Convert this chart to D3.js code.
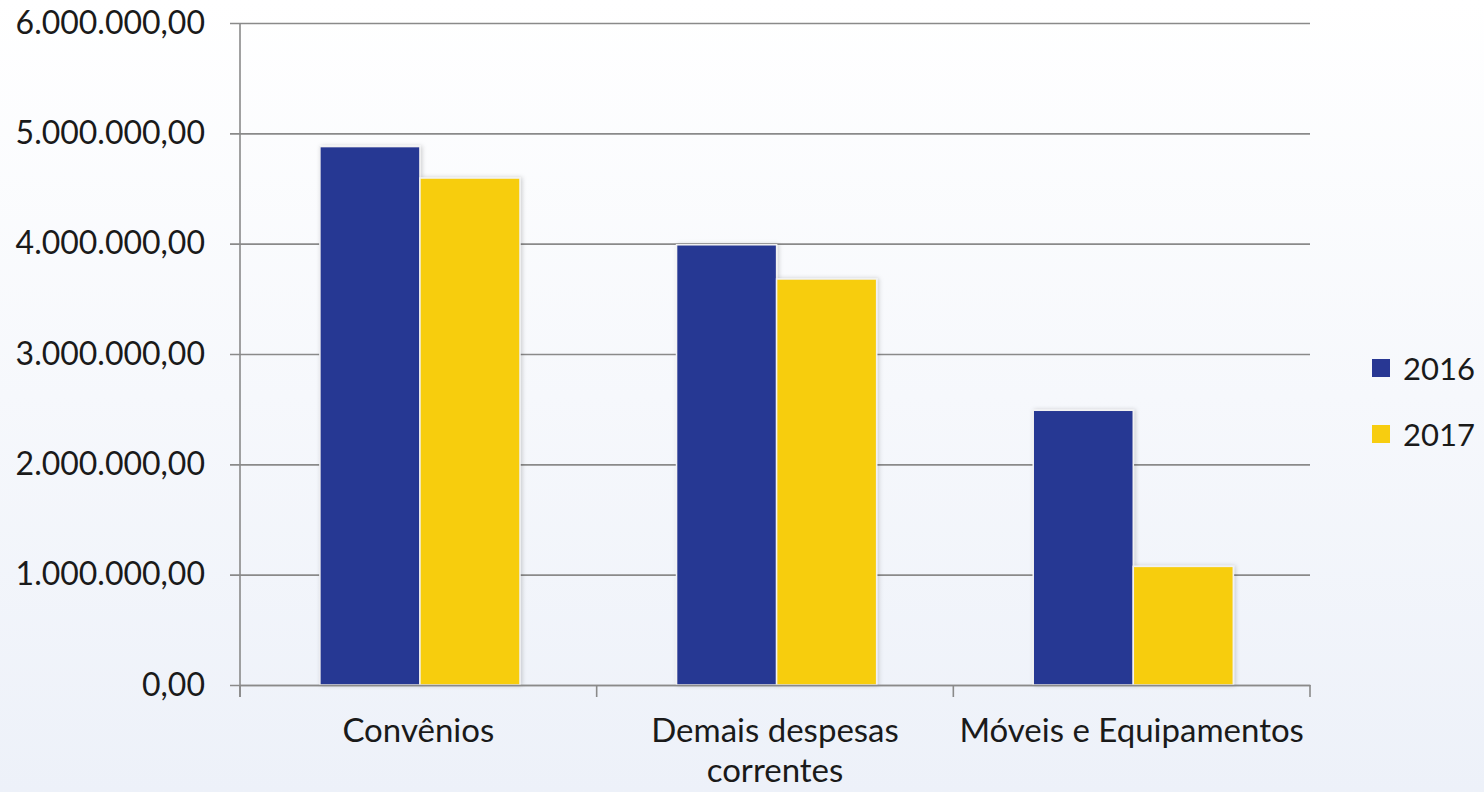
<!DOCTYPE html>
<html><head><meta charset="utf-8">
<script src="https://cdn.jsdelivr.net/npm/d3@7"></script>
<style>html,body{margin:0;padding:0;}svg{display:block;}</style>
</head><body>
<script>
const categories = [["Convênios"], ["Demais despesas", "correntes"], ["Móveis e Equipamentos"]];
const series = ["2016", "2017"];
const values2016 = [4880000, 3990000, 2490000];
const values2017 = [4595000, 3680000, 1075000];
const yTicks = [0, 1000000, 2000000, 3000000, 4000000, 5000000, 6000000];
const colors = ["#283793", "#f7cd10"];

const W = 1484, H = 792;
const svg = d3.select("body").append("svg").attr("width", W).attr("height", H);
const defs = svg.append("defs");
const grad = defs.append("linearGradient").attr("id","bg").attr("x1",0).attr("y1",0).attr("x2",0).attr("y2",1);
grad.append("stop").attr("offset","0%").attr("stop-color","#ffffff");
grad.append("stop").attr("offset","100%").attr("stop-color","#edf1f9");
const f = defs.append("filter").attr("id","sh").attr("x","-10%").attr("y","-10%").attr("width","130%").attr("height","130%");
f.append("feDropShadow").attr("dx",1.5).attr("dy",0).attr("stdDeviation",2).attr("flood-color","#000").attr("flood-opacity",0.18);
svg.append("rect").attr("width",W).attr("height",H).attr("fill","url(#bg)");

const mLeft = 240, mRight = 1310, mTop = 23, mBottom = 685;
const keys = categories.map(c => c.join(" "));
const x0 = d3.scaleBand().domain(keys).range([mLeft, mRight]).padding(0);
const bw = x0.bandwidth();
const x1 = d3.scaleBand().domain(series).range([bw*0.224, bw*0.785]).padding(0);
const y = d3.scaleLinear().domain([0, 6000000]).range([mBottom, mTop]);
const loc = d3.formatLocale({decimal: ",", thousands: ".", grouping: [3], currency: ["R$", ""]});
const fmt = loc.format(",.2f");

// gridlines + y ticks
const yAxis = d3.axisLeft(y).tickValues(yTicks).tickFormat(fmt).tickSize(-(mRight-mLeft)).tickPadding(35);
const gy = svg.append("g").attr("transform",`translate(${mLeft},0)`).call(yAxis);
gy.select(".domain").remove();
gy.selectAll(".tick line").attr("x1",-10).attr("stroke","#8a8a8a").attr("stroke-width",1.6);
gy.selectAll(".tick text").attr("font-family","Lato, sans-serif").attr("font-size",32).attr("fill","#1a1a1a");

// y axis line
svg.append("line").attr("x1",mLeft).attr("x2",mLeft).attr("y1",mTop).attr("y2",mBottom+12).attr("stroke","#8a8a8a").attr("stroke-width",1.6);

// bars
const data = keys.map((k,i) => ({k, vals: [values2016[i], values2017[i]]}));
const g = svg.append("g");
data.forEach(d => {
  d.vals.forEach((v, j) => {
    g.append("rect")
      .attr("x", x0(d.k) + x1(series[j]))
      .attr("y", y(v))
      .attr("width", x1.bandwidth())
      .attr("height", y(0) - y(v))
      .attr("fill", colors[j])
      .attr("stroke", "#f2f2f2").attr("stroke-width", 1.5)
      .attr("filter","url(#sh)");
  });
});

// x axis
const xAxis = d3.axisBottom(x0).tickValues([]).tickSize(0);
const gx = svg.append("g").attr("transform",`translate(0,${mBottom})`).call(xAxis);
gx.select(".domain").attr("stroke","#8a8a8a").attr("stroke-width",1.6);
const bounds = keys.map(k => x0(k) + bw).concat([mLeft]);
bounds.forEach(b => {
  gx.append("line").attr("x1",b).attr("x2",b).attr("y1",0).attr("y2",12).attr("stroke","#8a8a8a").attr("stroke-width",1.6);
});
categories.forEach((lines, i) => {
  const t = gx.append("text").attr("x", x0(keys[i]) + bw/2).attr("y", 57)
    .attr("text-anchor","middle").attr("font-family","Lato, sans-serif").attr("font-size",33).attr("fill","#1a1a1a");
  lines.forEach((ln, j) => t.append("tspan").attr("x", x0(keys[i]) + bw/2).attr("dy", j === 0 ? 0 : 40).text(ln));
});

// legend
const lg = svg.append("g").attr("transform","translate(1372,359)");
series.forEach((s, i) => {
  const r = lg.append("g").attr("transform",`translate(0,${i*66})`);
  r.append("rect").attr("width",18).attr("height",18).attr("fill",colors[i]);
  r.append("text").attr("x",31).attr("y",21).attr("font-family","Lato, sans-serif").attr("font-size",31).attr("fill","#1a1a1a").text(s);
});
</script>
</body></html>
